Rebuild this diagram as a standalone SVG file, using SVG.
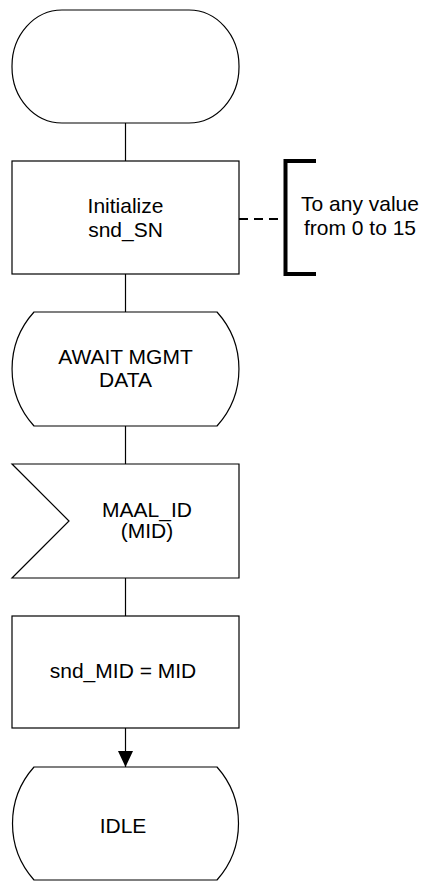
<svg xmlns="http://www.w3.org/2000/svg" width="424" height="881" viewBox="0 0 424 881">
<style>
.s{fill:#fff;stroke:#000;stroke-width:1.2}
.l{fill:none;stroke:#000;stroke-width:1.2}
.t{font-family:"Liberation Sans",Arial,sans-serif;font-size:21px;fill:#000;text-anchor:middle}
</style>
<defs>
<marker id="ah" markerWidth="16" markerHeight="15" refX="16" refY="7.5" orient="auto" markerUnits="userSpaceOnUse">
<path d="M0,0 L16,7.5 L0,15 Z" fill="#000"/>
</marker>
</defs>
<rect width="424" height="881" fill="#fff"/>
<g id="connectors">
<line class="l" x1="125.5" y1="123" x2="125.5" y2="161"/>
<line class="l" x1="125.5" y1="274" x2="125.5" y2="312"/>
<line class="l" x1="125.5" y1="426" x2="125.5" y2="464"/>
<line class="l" x1="125.5" y1="578" x2="125.5" y2="616"/>
<line class="l" x1="125.5" y1="728" x2="125.5" y2="767" marker-end="url(#ah)"/>
<line x1="239" y1="219" x2="285" y2="219" stroke="#000" stroke-width="2" stroke-dasharray="9,6"/>
</g>
<g id="start">
<rect class="s" x="12" y="10" width="227" height="113" rx="50" ry="56"/>
</g>
<g id="init">
<rect class="s" x="12" y="161" width="227" height="113"/>
<text class="t" x="125.5" y="213">Initialize</text>
<text class="t" x="125.5" y="237">snd_SN</text>
</g>
<g id="comment">
<path d="M316,161 H285.5 V274 H316" fill="none" stroke="#000" stroke-width="4"/>
<text class="t" x="360" y="211">To any value</text>
<text class="t" x="360" y="235">from 0 to 15</text>
</g>
<g id="await">
<path class="s" d="M34,312 H217 A85,85 0 0 1 217,426 H34 A85,85 0 0 1 34,312 Z"/>
<text class="t" x="125.5" y="364">AWAIT MGMT</text>
<text class="t" x="125.5" y="387">DATA</text>
</g>
<g id="input">
<path class="s" d="M12,464 H239 V578 H12 L69,521 Z"/>
<text class="t" x="147" y="517">MAAL_ID</text>
<text class="t" x="147" y="538">(MID)</text>
</g>
<g id="task">
<rect class="s" x="12" y="616" width="227" height="112"/>
<text class="t" x="123" y="678">snd_MID = MID</text>
</g>
<g id="idle">
<path class="s" d="M34,767 H217 A85,85 0 0 1 217,880 H34 A85,85 0 0 1 34,767 Z"/>
<text class="t" x="123" y="833">IDLE</text>
</g>
</svg>
